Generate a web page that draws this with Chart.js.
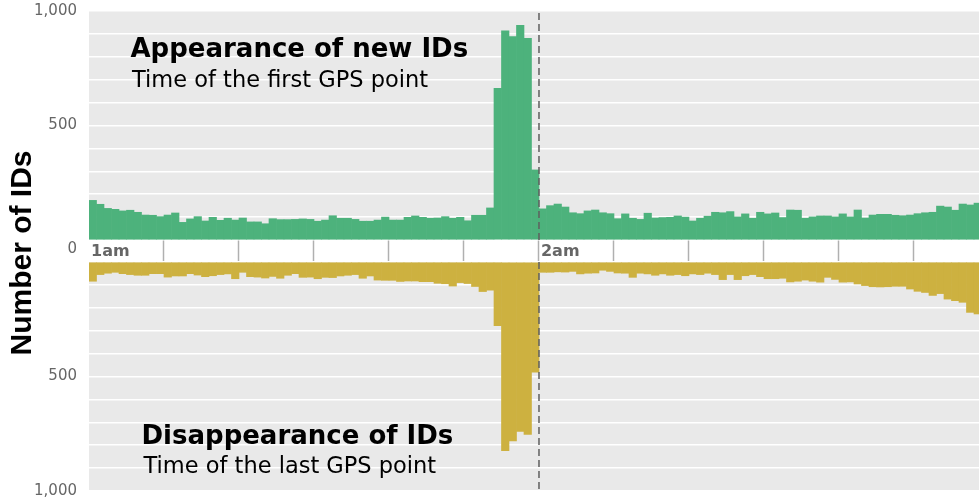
<!DOCTYPE html>
<html lang="en">
<head>
<meta charset="UTF-8">
<title>Appearance and disappearance of IDs</title>
<script src="https://cdn.jsdelivr.net/npm/chart.js"></script>
<style>
    body { margin: 0; background: #fff; }
    #wrap { position: relative; width: 979px; height: 503px; overflow: hidden; }
    #wrap canvas { position: absolute; left: 0; }
    #topChart { top: 0; }
    #bottomChart { top: 250px; }
    .note { position: absolute; white-space: nowrap; color: #000; font-family: 'DejaVu Sans', sans-serif; line-height: 1; }
    .note.head { font-size: 26px; font-weight: bold; }
    .note.sub { font-size: 22.5px; }
    #yTitle {
        position: absolute; left: -108.7px; top: 238px; width: 260px; height: 30px;
        line-height: 30px; text-align: center; transform: rotate(-90deg);
        font-family: 'Liberation Sans', sans-serif; font-weight: bold; font-size: 30px; color: #000;
    }
</style>
</head>
<body>
<div id="wrap">
    <canvas id="topChart" width="979" height="262"></canvas>
    <canvas id="bottomChart" width="979" height="253"></canvas>
    <div class="note head" style="left:130.5px; top:35px;">Appearance of new IDs</div>
    <div class="note sub" style="left:132px; top:68px;">Time of the first GPS point</div>
    <div class="note head" style="left:141.5px; top:422px;">Disappearance of IDs</div>
    <div class="note sub" style="left:143.5px; top:454px;">Time of the last GPS point</div>
    <div id="yTitle">Number of IDs</div>
</div>

<script>
    // one-minute bins, counted in minutes after 1am
    const minutes = Array.from({ length: 119 }, (_, i) => i);

    // first GPS point per ID (top panel)
    const appearances = [
        173, 156, 138, 134, 127, 130, 121, 109, 108, 102,
        109, 118, 77, 92, 102, 83, 99, 86, 95, 87,
        96, 79, 79, 71, 93, 89, 89, 90, 92, 90,
        82, 87, 106, 95, 95, 90, 82, 82, 87, 100,
        87, 87, 99, 105, 99, 95, 96, 102, 95, 99,
        84, 108, 108, 140, 662, 913, 888, 937, 881, 306,
        136, 150, 157, 144, 119, 115, 127, 131, 119, 115,
        93, 114, 95, 90, 117, 96, 98, 99, 105, 100,
        83, 95, 104, 121, 119, 124, 101, 114, 95, 121,
        114, 118, 98, 131, 130, 95, 101, 105, 105, 101,
        114, 101, 131, 96, 109, 112, 112, 108, 106, 109,
        115, 119, 121, 148, 144, 130, 157, 153, 161
    ];

    // last GPS point per ID (bottom panel)
    const disappearances = [
        84, 55, 49, 45, 51, 55, 58, 58, 51, 51,
        66, 61, 61, 51, 57, 64, 60, 55, 52, 73,
        45, 64, 66, 70, 63, 71, 58, 51, 67, 66,
        73, 67, 68, 61, 58, 55, 71, 61, 79, 80,
        80, 85, 83, 83, 86, 86, 93, 95, 105, 90,
        94, 107, 129, 123, 278, 824, 781, 740, 753, 481,
        45, 45, 43, 44, 41, 52, 49, 48, 36, 41,
        48, 49, 67, 49, 52, 58, 52, 58, 55, 60,
        52, 55, 49, 55, 77, 55, 77, 60, 55, 64,
        73, 73, 71, 87, 84, 79, 84, 88, 67, 76,
        88, 87, 96, 103, 108, 109, 108, 106, 106, 118,
        128, 133, 146, 138, 162, 169, 176, 220, 227
    ];

    const hourTicks = [0, 60];
    const hourLabels = ['1am', '2am'];
    const valueTicks = [0, 500, 1000];
    const valueLabels = ['0', '500', '1,000'];
    const axisMax = 1000;
    const windowEnd = 118.67;   // right edge of the visible window
    const markerMinute = 60;    // 2am, dashed line

    const panelBg = {
        id: 'panelBg',
        beforeDraw(chart) {
            const { ctx, chartArea: a } = chart;
            ctx.save();
            ctx.fillStyle = '#e9e9e9';
            ctx.fillRect(a.left, a.top, a.width, a.height);
            ctx.restore();
        }
    };

    function makePanel(canvasId, values, color, isTop) {
        return new Chart(document.getElementById(canvasId), {
            type: 'bar',
            data: {
                datasets: [
                    {
                        type: 'line',
                        data: [{ x: markerMinute, y: 0 }, { x: markerMinute, y: axisMax }],
                        borderColor: '#5f5f5f',
                        borderWidth: 1.5,
                        borderDash: [7, 4],
                        pointRadius: 0,
                        order: 1
                    },
                    {
                        type: 'bar',
                        data: minutes.map((m, i) => ({ x: m + 0.5, y: values[i] })),
                        backgroundColor: color,
                        borderWidth: 0,
                        barPercentage: 1,
                        categoryPercentage: 1,
                        order: 2
                    }
                ]
            },
            options: {
                responsive: false,
                animation: false,
                layout: { padding: isTop ? { top: 11, bottom: 0, left: 0, right: 0 } : { top: 12, bottom: 12, left: 0, right: 0 } },
                plugins: { legend: { display: false }, tooltip: { enabled: false } },
                scales: {
                    x: {
                        type: 'linear',
                        display: isTop,
                        min: 0,
                        max: windowEnd,
                        offset: false,
                        // the hour band between the two panels belongs to the top chart
                        afterFit: s => { s.height = isTop ? 22 : 0; },
                        grid: {
                            offset: false,
                            drawOnChartArea: false,
                            drawTicks: true,
                            tickLength: 22,
                            tickWidth: 1.5,
                            tickColor: c => (c.tick && c.tick.value === 0) ? 'rgba(0,0,0,0)' : '#b0b0b0'
                        },
                        border: { display: false },
                        ticks: {
                            stepSize: 10,
                            includeBounds: false,
                            autoSkip: false,
                            maxRotation: 0,
                            align: 'start',
                            labelOffset: 2,
                            padding: -20,
                            color: '#666',
                            font: { family: 'DejaVu Sans', size: 16, weight: 'bold' },
                            callback: v => {
                                const k = hourTicks.indexOf(v);
                                return k < 0 ? '' : hourLabels[k];
                            }
                        }
                    },
                    y: {
                        min: 0,
                        max: axisMax,
                        reverse: !isTop,
                        afterFit: s => { s.width = 89; },
                        grid: {
                            color: '#ffffff',
                            lineWidth: 1.5,
                            drawTicks: true,
                            tickLength: 12,
                            tickColor: 'rgba(0,0,0,0)'
                        },
                        border: { display: false },
                        ticks: {
                            stepSize: 100,
                            autoSkip: false,
                            padding: 0,
                            color: '#666',
                            font: { family: 'DejaVu Sans', size: 15 },
                            callback: v => {
                                const k = valueTicks.indexOf(v);
                                if (k < 0) return '';
                                if (v === 0) return isTop ? ['', valueLabels[k]] : '';
                                return valueLabels[k];
                            }
                        }
                    }
                }
            },
            plugins: [panelBg]
        });
    }

    makePanel('topChart', appearances, '#4db27c', true);
    makePanel('bottomChart', disappearances, '#cdb140', false);
</script>
</body>
</html>
